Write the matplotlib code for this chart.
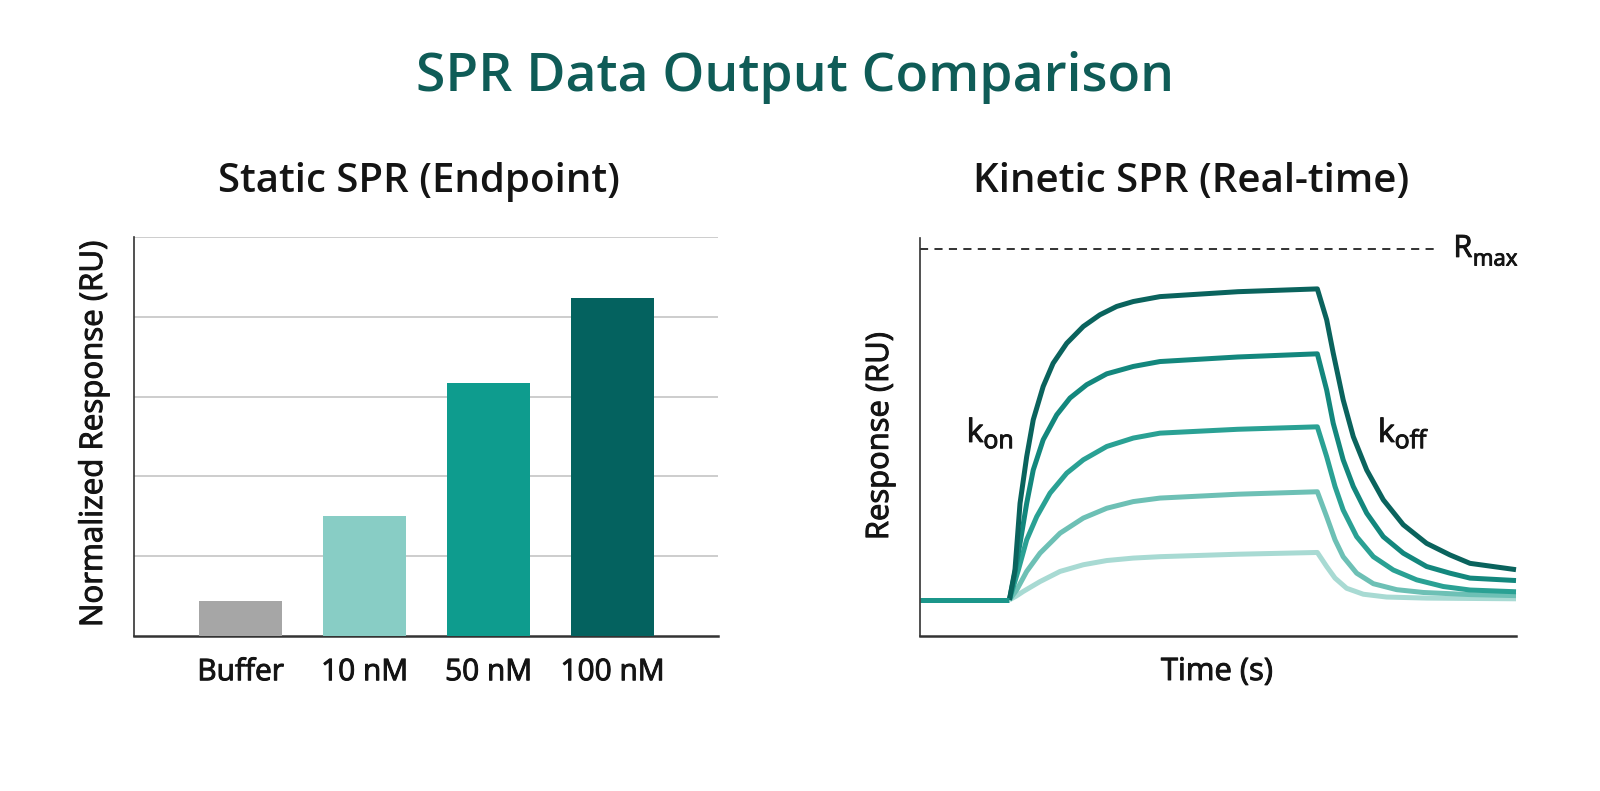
import matplotlib
matplotlib.use("Agg")
import matplotlib.pyplot as plt
import matplotlib.patheffects as pe

# ---------------- data ----------------
bar_categories = ["Buffer", "10 nM", "50 nM", "100 nM"]
bar_values = [0.44, 1.50, 3.17, 4.24]
bar_colors = ["#a6a6a6", "#88cdc5", "#0e9c8e", "#04625f"]

# sensorgram: baseline, association, dissociation (response in RU, Rmax = 100)
t_baseline = [0, 90]
r_baseline = [0, 0]

t_assoc_100 = [90, 95.6, 100.7, 107.4, 114, 124, 134, 147.7, 164.4, 181, 198, 214.7, 241.6, 320, 400]
r_assoc_100 = [0, 8.5, 27.5, 40.8, 51.3, 60.8, 67.4, 73.1, 77.9, 81.2, 83.6, 85.0, 86.4, 87.8, 88.6]
t_assoc_50 = [90, 95, 100.7, 107.4, 114, 124, 137.6, 151, 167.8, 188, 214.7, 241.6, 320, 400]
r_assoc_50 = [0, 7, 16.1, 27.5, 37.0, 45.6, 52.7, 57.5, 61.3, 64.4, 66.5, 67.9, 69.2, 70.1]
t_assoc_25 = [90, 94, 99, 107.4, 117.5, 130.9, 147.7, 164.4, 188, 214.7, 241.6, 320, 400]
r_assoc_25 = [0, 3.8, 8.5, 17.1, 23.7, 30.4, 36.1, 39.9, 43.7, 46.1, 47.5, 48.6, 49.3]
t_assoc_10 = [90, 97.3, 107.4, 120.8, 141, 164.4, 188, 214.7, 241.6, 320, 400]
r_assoc_10 = [0, 2.8, 8.1, 13.3, 19.0, 23.3, 26.1, 28.0, 29.0, 30.1, 30.8]
t_assoc_5 = [90, 97, 104, 120.8, 141, 164.4, 188, 214.7, 241.6, 320, 400]
r_assoc_5 = [0, 1.1, 2.4, 5.2, 8.1, 10.0, 11.2, 11.9, 12.3, 13.0, 13.5]

t_dissoc_100 = [400, 409.4, 416, 426, 436.2, 449.7, 466.4, 486.5, 510, 533.5, 553.7, 600]
r_dissoc_100 = [88.6, 79.8, 70.3, 57.0, 46.5, 37.0, 28.5, 21.4, 16.1, 12.8, 10.4, 8.6]
t_dissoc_50 = [400, 409.4, 416, 426, 436.2, 449.7, 466.4, 486.5, 510, 533.5, 553.7, 600]
r_dissoc_50 = [70.1, 59.8, 50.3, 39.9, 32.3, 24.7, 18.0, 13.3, 9.5, 7.6, 6.2, 5.5]
t_dissoc_25 = [400, 409.4, 417.8, 426, 439.6, 456.4, 476.5, 500, 526.8, 553.7, 600]
r_dissoc_25 = [49.3, 40.8, 32.3, 25.6, 18.0, 12.3, 8.5, 5.7, 3.8, 2.8, 2.3]
t_dissoc_10 = [400, 409.4, 417.8, 426, 439.6, 456.4, 479.9, 506.7, 553.7, 600]
r_dissoc_10 = [30.8, 23.7, 17.1, 12.3, 7.6, 4.6, 2.9, 2.1, 1.5, 1.2]
t_dissoc_5 = [400, 409.4, 417.8, 429.5, 446.3, 469.8, 510, 553.7, 600]
r_dissoc_5 = [13.5, 9.5, 6.2, 3.3, 1.6, 0.8, 0.5, 0.4, 0.3]

curve_colors = ["#0a635d", "#13877d", "#2aa194", "#6dc0b5", "#a8dad3"]
baseline_color = "#1b968a"

r_max = 100
t_rmax_end = 518

# ---------------- style ----------------
plt.rcParams["font.family"] = ["Open Sans", "DejaVu Sans"]
TXT = "#141414"
BOLDEN = [pe.withStroke(linewidth=0.7, foreground=TXT)]

fig = plt.figure(figsize=(16, 7.91), dpi=100)
W, H = 1600, 791


def fx(px):
    return px / W


def fy(py):
    return 1 - py / H


# titles
fig.text(fx(795), fy(78), "SPR Data Output Comparison", ha="center", va="center",
         fontsize=38.5, fontweight=600, color="#0f5c57")
fig.text(fx(419), fy(182), "Static SPR (Endpoint)", ha="center", va="center",
         fontsize=29, fontweight=600, color=TXT)
fig.text(fx(1191), fy(182), "Kinetic SPR (Real-time)", ha="center", va="center",
         fontsize=29, fontweight=600, color=TXT)

# ---------------- left: bar chart ----------------
ax1 = fig.add_axes([fx(134), fy(636), fx(718) - fx(134), fy(237) - fy(636)])
x = list(range(len(bar_categories)))
ax1.bar(x, bar_values, width=0.67, color=bar_colors, zorder=3)
ax1.set_xlim(-0.86, 3.85)
ax1.set_ylim(0, 5)
ax1.set_yticks([1, 2, 3, 4, 5])
ax1.yaxis.grid(True, color="#c9c9c9", linewidth=1.3, zorder=0)
ax1.set_axisbelow(True)
ax1.tick_params(axis="y", left=False, labelleft=False)
ax1.set_xticks(x)
ax1.set_xticklabels(bar_categories, fontsize=21.5, color=TXT)
for lab in ax1.get_xticklabels():
    lab.set_path_effects(BOLDEN)
ax1.tick_params(axis="x", length=0, pad=16)
for s in ["top", "right"]:
    ax1.spines[s].set_visible(False)
ax1.spines["left"].set_color("#333333")
ax1.spines["left"].set_linewidth(1.2)
ax1.spines["bottom"].set_color("#333333")
ax1.spines["bottom"].set_linewidth(1.8)
fig.text(fx(94), fy(434), "Normalized Response (RU)", rotation=90, ha="center",
         va="center", fontsize=22.5, color=TXT, path_effects=BOLDEN)

# ---------------- right: sensorgram ----------------
ax2 = fig.add_axes([fx(920), fy(636), fx(1516) - fx(920), fy(238) - fy(636)])
ax2.set_xlim(0, 600)
ax2.set_ylim(-10.3, 103.1)
ax2.set_xticks([])
ax2.set_yticks([])
for s in ["top", "right"]:
    ax2.spines[s].set_visible(False)
ax2.spines["left"].set_color("#333333")
ax2.spines["left"].set_linewidth(1.2)
ax2.spines["bottom"].set_color("#333333")
ax2.spines["bottom"].set_linewidth(1.8)

ax2.plot([0, t_rmax_end], [r_max, r_max], color="#222222", lw=1.3,
         dashes=(4.5, 3.5), clip_on=False)
ax2.text(537, r_max, "R", fontsize=22, va="center", ha="left", color=TXT,
         path_effects=BOLDEN)
ax2.annotate("max", xy=(537, r_max), xytext=(14, -8), textcoords="offset points",
             fontsize=16, va="center", ha="left", color=TXT, path_effects=BOLDEN)

t_sets = [(t_assoc_5, t_dissoc_5), (t_assoc_10, t_dissoc_10), (t_assoc_25, t_dissoc_25),
          (t_assoc_50, t_dissoc_50), (t_assoc_100, t_dissoc_100)]
r_sets = [(r_assoc_5, r_dissoc_5), (r_assoc_10, r_dissoc_10), (r_assoc_25, r_dissoc_25),
          (r_assoc_50, r_dissoc_50), (r_assoc_100, r_dissoc_100)]
colors_draw = curve_colors[::-1]
for (ta, td), (ra, rd), c in zip(t_sets, r_sets, colors_draw):
    ax2.plot(ta + td[1:], ra + rd[1:], color=c, lw=3.6,
             solid_joinstyle="round", solid_capstyle="butt", clip_on=False)
ax2.plot(t_baseline, r_baseline, color=baseline_color, lw=3.6, solid_capstyle="butt")

ax2.text(47, 45, "k", fontsize=23, va="baseline", ha="left", color=TXT,
         path_effects=BOLDEN)
ax2.annotate("on", xy=(47, 45), xytext=(12, -4.5), textcoords="offset points",
             fontsize=18, va="baseline", ha="left", color=TXT, path_effects=BOLDEN)
ax2.text(461, 45, "k", fontsize=23, va="baseline", ha="left", color=TXT,
         path_effects=BOLDEN)
ax2.annotate("off", xy=(461, 45), xytext=(12, -4.5), textcoords="offset points",
             fontsize=18, va="baseline", ha="left", color=TXT, path_effects=BOLDEN)

fig.text(fx(880), fy(436), "Response (RU)", rotation=90, ha="center",
         va="center", fontsize=22.3, color=TXT, path_effects=BOLDEN)
fig.text(fx(1217), fy(672), "Time (s)", ha="center", va="center",
         fontsize=22.3, color=TXT, path_effects=BOLDEN)

fig.savefig("out.png", dpi=100, facecolor="white")
